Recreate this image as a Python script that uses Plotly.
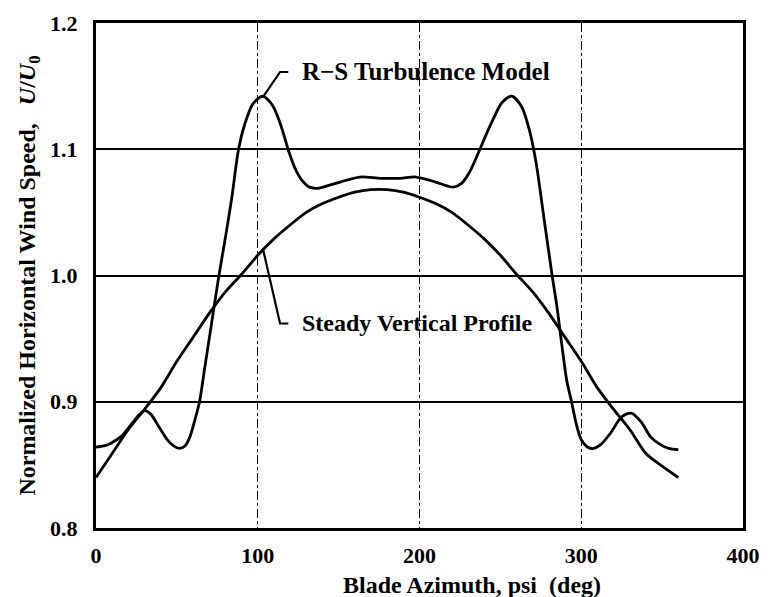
import plotly.graph_objects as go

# R-S turbulence model curve
azimuth_rs = [0, 5, 9, 16, 23, 27, 30, 34, 38, 44, 48, 51.5, 55, 58, 61, 64, 67, 70, 73, 76,
              80, 84, 88, 92, 97, 103, 109, 114, 119, 123, 127, 132, 137, 143,
              151, 163, 176, 188, 198, 210, 217, 221, 226, 231, 237, 241, 246, 251,
              257, 263, 268, 272, 277, 282, 285, 288, 291, 294, 297, 300,
              304, 307.5, 312, 318, 325, 331, 337, 343, 349, 354, 360]
speed_rs = [0.864, 0.865, 0.867, 0.873, 0.884, 0.890, 0.893, 0.890, 0.882, 0.870, 0.865, 0.863,
            0.865, 0.872, 0.885, 0.900, 0.925, 0.950, 0.975, 1.000,
            1.030, 1.062, 1.099, 1.120, 1.136, 1.142, 1.135, 1.120, 1.099,
            1.085, 1.076, 1.070, 1.069, 1.071,
            1.074, 1.078, 1.077, 1.077, 1.078, 1.074, 1.071, 1.070, 1.073, 1.082, 1.099,
            1.111, 1.125, 1.137,
            1.142, 1.134, 1.115, 1.090, 1.045, 1.000, 0.975, 0.945, 0.917,
            0.900, 0.882, 0.870,
            0.864, 0.863, 0.866, 0.875, 0.888, 0.891, 0.884, 0.872, 0.866, 0.863, 0.862]

# steady vertical profile
azimuth_steady = [0, 10, 20, 30, 40, 50, 60, 70, 80, 90, 100, 110, 120, 130, 140, 150, 160, 170,
                  180, 190, 200, 210, 220, 230, 240, 250, 260, 270, 280, 290, 300, 310, 320,
                  330, 340, 350, 360]
speed_steady = [0.840, 0.859, 0.878, 0.894, 0.911, 0.932, 0.951, 0.970, 0.987, 1.001, 1.016,
                1.029, 1.040, 1.050, 1.057, 1.062, 1.066, 1.068,
                1.068, 1.066, 1.062, 1.057, 1.050, 1.040, 1.029, 1.016, 1.001, 0.987, 0.970,
                0.951, 0.932, 0.911, 0.894, 0.878, 0.859, 0.849, 0.840]

x_ticks = [0, 100, 200, 300, 400]
y_ticks = [0.8, 0.9, 1.0, 1.1, 1.2]
y_tick_text = ["0.8", "0.9", "1.0", "1.1", "1.2"]

serif = "Liberation Serif"

fig = go.Figure()
fig.add_traces([
    go.Scatter(x=azimuth_rs, y=speed_rs, mode="lines",
               line=dict(color="black", width=2.8, shape="spline", smoothing=0.8)),
    go.Scatter(x=azimuth_steady, y=speed_steady, mode="lines",
               line=dict(color="black", width=2.8, shape="spline", smoothing=0.8)),
])

# leader lines for the two labels
fig.add_shape(type="path", path="M 103.4 1.1416 L 113.8 1.1612 L 118.9 1.1612",
              xref="x", yref="y", line=dict(color="black", width=2.2))
fig.add_shape(type="path", path="M 103.4 1.020 L 113.8 0.962 L 118.9 0.962",
              xref="x", yref="y", line=dict(color="black", width=2.2))

fig.add_annotation(x=126, y=1.1612, text="R\u2212S Turbulence Model", showarrow=False,
                   xanchor="left", yanchor="middle",
                   font=dict(family=serif, size=25, weight="bold", color="black"))
fig.add_annotation(x=126, y=0.962, text="Steady Vertical Profile", showarrow=False,
                   xanchor="left", yanchor="middle",
                   font=dict(family=serif, size=24, weight="bold", color="black"))
fig.add_annotation(x=0.581, y=-0.113, xref="paper", yref="paper",
                   text="Blade Azimuth, psi\u00a0\u00a0(deg)", showarrow=False,
                   xanchor="center", yanchor="middle",
                   font=dict(family=serif, size=24, weight="bold", color="black"))

# the page body adds 8 px around the figure, so the figure is 8 px smaller
fig.update_layout(
    width=762,
    height=589,
    margin=dict(l=88, r=27, t=15, b=69, autoexpand=False),
    paper_bgcolor="white",
    plot_bgcolor="white",
    showlegend=False,
    font=dict(family=serif, size=22, color="black", weight="bold"),
    xaxis=dict(
        range=[0, 400],
        tickvals=x_ticks,
        showgrid=True,
        gridcolor="black",
        gridwidth=1.2,
        griddash="dashdot",
        showline=True,
        linecolor="black",
        linewidth=3,
        mirror=True,
        ticks="",
        ticklabelstandoff=6,
        zeroline=False,
        automargin=False,
    ),
    yaxis=dict(
        range=[0.8, 1.2],
        tickvals=y_ticks,
        ticktext=y_tick_text,
        showgrid=True,
        gridcolor="black",
        gridwidth=1.6,
        showline=True,
        linecolor="black",
        linewidth=3,
        mirror=True,
        ticks="",
        ticklabelstandoff=11,
        zeroline=False,
        automargin=False,
        title=dict(
            text="Normalized Horizontal Wind Speed,\u00a0\u00a0\u00a0<i>U</i>/<i>U</i><sub>0</sub>",
            font=dict(family=serif, size=24, weight="bold"),
            standoff=8,
        ),
    ),
)

fig.write_html("out.html")
